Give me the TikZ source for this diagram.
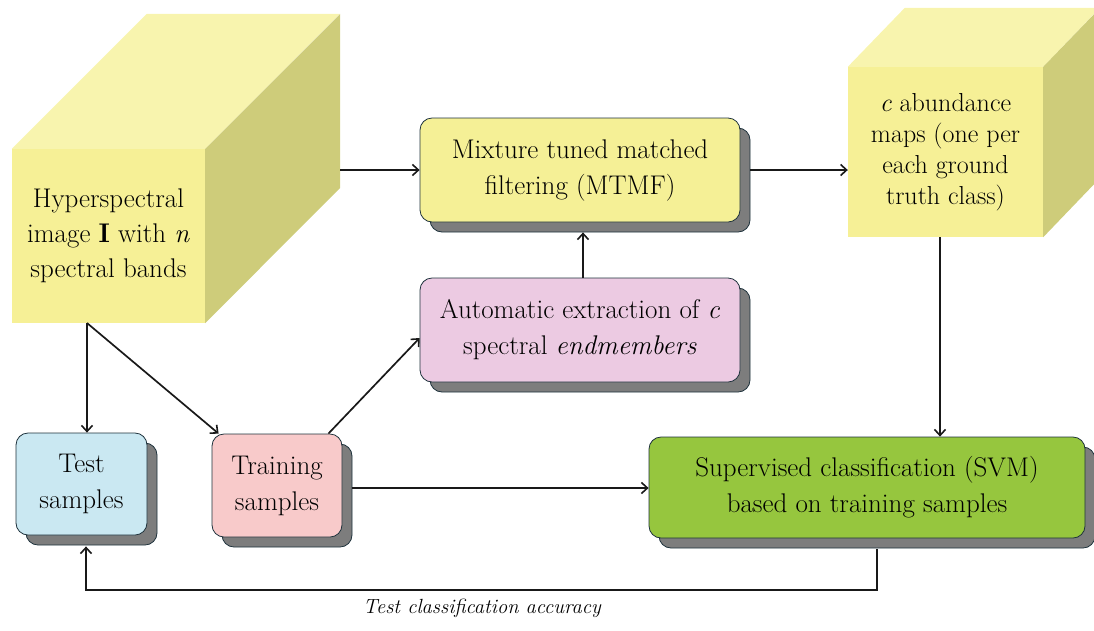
\documentclass[tikz,border=0pt]{standalone}
\usetikzlibrary{arrows.meta,shadows,calc}
\definecolor{cubefront}{RGB}{246,240,150}
\definecolor{cubetop}{RGB}{248,244,174}
\definecolor{cubeside}{RGB}{206,204,122}
\definecolor{boxyellow}{RGB}{245,240,150}
\definecolor{boxpink}{RGB}{236,202,226}
\definecolor{boxblue}{RGB}{202,232,242}
\definecolor{boxsalmon}{RGB}{248,202,202}
\definecolor{boxgreen}{RGB}{150,198,62}
\definecolor{shadowgray}{RGB}{125,125,125}
\definecolor{edge}{RGB}{30,50,60}
\begin{document}
\begin{tikzpicture}[x=1pt,y=-1pt,
  proc/.style={rectangle, rounded corners=12pt, draw=edge, line width=0.8pt, align=center,
    font=\fontsize{27}{36}\selectfont, inner sep=0pt,
    general shadow={shadow xshift=10pt, shadow yshift=-10pt, fill=shadowgray, draw=edge, line width=0.8pt}},
  face/.style={rectangle, fill=cubefront, draw=none, inner sep=0pt, align=center},
  conn/.style={line width=1.7pt, draw=black!90, -{Straight Barb[length=6pt,width=11pt,line width=1.6pt]}},
]
\useasboundingbox (0,0) rectangle (1094,630);
\clip (0,0) rectangle (1094,630);

% left cube
\node[face, minimum width=193pt, minimum height=174pt, font=\fontsize{27}{35}\selectfont] (hsi) at (108.5,236)
  {Hyperspectral\\image \textbf{I} with \textit{n}\\spectral bands};
\fill[cubetop] (hsi.north west) -- ++(135,-135) -- ++(193,0) -- (hsi.north east) -- cycle;
\fill[cubeside] (hsi.north east) -- ++(135,-135) -- ++(0,174) -- (hsi.south east) -- cycle;

% right cube
\node[face, minimum width=195pt, minimum height=170pt, font=\fontsize{26}{31}\selectfont] (abund) at (945.5,152)
  {\textit{c} abundance\\maps (one per\\each ground\\truth class)};
\fill[cubetop] (abund.north west) -- ++(57,-59) -- ++(195,0) -- (abund.north east) -- cycle;
\fill[cubeside] (abund.north east) -- ++(57,-59) -- ++(0,170) -- (abund.south east) -- cycle;

% process boxes
\node[proc, fill=boxyellow, minimum width=320pt, minimum height=104pt] (mtmf) at (580,170)
  {Mixture tuned matched\\filtering (MTMF)};
\node[proc, fill=boxpink, minimum width=320pt, minimum height=104pt] (endm) at (580,330)
  {Automatic extraction of \textit{c}\\spectral \textit{endmembers}};
\node[proc, fill=boxblue, minimum width=131pt, minimum height=102pt] (test) at (81.5,484)
  {Test\\samples};
\node[proc, fill=boxsalmon, minimum width=130pt, minimum height=103pt] (train) at (277,485.5)
  {Training\\samples};
\node[proc, fill=boxgreen, minimum width=436pt, minimum height=101pt] (svm) at (867,487.5)
  {Supervised classification (SVM)\\based on training samples};

% helper coordinates
\coordinate (hsiside) at ($(hsi.east)+(135,0)$);
\coordinate (fork) at (87,323);
\coordinate (mtmfsh) at ($(mtmf.east)+(10,0)$);
\coordinate (mtmfbot) at ($(mtmf.south)+(3,10)$);
\coordinate (trainsh) at ($(train.east)+(10,2.5)$);
\coordinate (trainout) at ($(train.north east)+(-14,0)$);
\coordinate (trainin) at ($(train.north west)+(7,0)$);
\coordinate (endmin) at ($(endm.west)+(0,8)$);
\coordinate (svmout) at ($(svm.south)+(10,11)$);
\coordinate (testin) at ($(test.south)+(4.5,11)$);
\coordinate (loop) at (0,590);

% connectors
\draw[conn] (hsiside |- mtmf.west) -- (mtmf.west);
\draw[conn] (mtmfsh) -- (abund.west |- mtmfsh);
\draw[conn] (endm.north -| mtmfbot) -- (mtmfbot);
\draw[conn] (abund.south -| 940,0) -- (svm.north -| 940,0);
\draw[conn] (fork) -- (fork |- test.north);
\draw[conn] (fork) -- (trainin);
\draw[conn] (trainout) -- (endmin);
\draw[conn] (trainsh) -- (svm.west |- trainsh);
\draw[conn] (svmout) -- (svmout |- loop) -- (testin |- loop) -- (testin);

\node[font=\fontsize{20.5}{24}\selectfont\itshape, anchor=center] (acc) at (482,608) {Test classification accuracy};
\end{tikzpicture}
\end{document}
